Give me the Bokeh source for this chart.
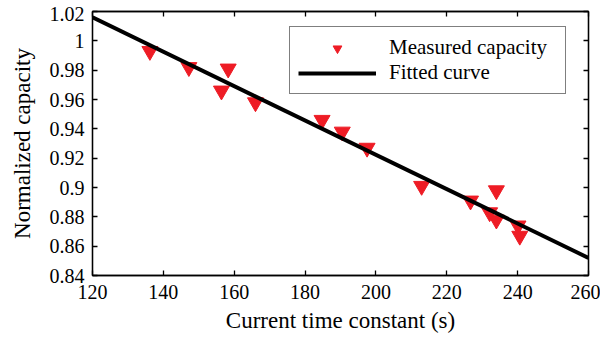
from bokeh.plotting import figure
from bokeh.models import (ColumnDataSource, FixedTicker, LinearAxis, Range1d,
                          CustomJSTickFormatter, Legend, LegendItem)
from bokeh.embed import file_html
from bokeh.resources import INLINE

# ---- data ----
time_constant = [136.2, 147.2, 156.4, 158.3, 166.0, 184.8, 190.5, 197.5,
                 212.9, 226.7, 232.1, 234.0, 234.0, 240.1, 240.6]
capacity = [0.993, 0.982, 0.966, 0.981, 0.958, 0.946, 0.938, 0.927,
            0.901, 0.891, 0.883, 0.878, 0.898, 0.874, 0.867]
fit_x = [120, 260]
fit_y = [1.016, 0.852]
x_ticks = [120, 140, 160, 180, 200, 220, 240, 260]
y_ticks = [0.84, 0.86, 0.88, 0.90, 0.92, 0.94, 0.96, 0.98, 1.00, 1.02]

FONT = "Liberation Serif"

p = figure(frame_width=496, frame_height=264, output_backend="svg",
           toolbar_location=None, x_range=Range1d(120, 260),
           y_range=Range1d(0.84, 1.02), min_border_right=12,
           x_axis_label="Current time constant (s)",
           y_axis_label="Normalized capacity")
p.margin = (6, 0, 0, 6)
p.background_fill_color = "white"
p.border_fill_color = "white"
p.outline_line_color = "black"
p.outline_line_width = 1.3
p.xgrid.visible = False
p.ygrid.visible = False

src = ColumnDataSource(dict(x=time_constant, y=capacity))
fit = ColumnDataSource(dict(x=fit_x, y=fit_y))
r_pts = p.scatter("x", "y", source=src, marker="inverted_triangle", size=16,
                  fill_color="#EE1C25", line_color="#EE1C25")
r_fit = p.line("x", "y", source=fit, line_color="black", line_width=4)

fmt = CustomJSTickFormatter(code="return tick.toFixed(2).replace(/0+$/,'').replace(/\\.$/,'');")

def style(ax, labels=True):
    ax.axis_line_color = "black"
    ax.axis_line_width = 1.3
    ax.major_tick_in = 5
    ax.major_tick_out = 0
    ax.minor_tick_line_color = None
    ax.major_tick_line_color = "black"
    ax.major_tick_line_width = 1.3
    if labels:
        ax.major_label_text_font = FONT
        ax.major_label_text_font_size = "20px"
        ax.major_label_text_color = "black"
        ax.axis_label_text_font = FONT
        ax.axis_label_text_font_size = "23px"
        ax.axis_label_text_font_style = "normal"
        ax.axis_label_text_color = "black"
    else:
        ax.major_label_text_font_size = "0px"

p.xaxis.ticker = FixedTicker(ticks=x_ticks)
p.yaxis.ticker = FixedTicker(ticks=y_ticks)
p.yaxis.formatter = fmt
style(p.xaxis[0])
style(p.yaxis[0])
p.xaxis.major_label_standoff = 9
p.yaxis.major_label_standoff = 8
p.xaxis.axis_label_standoff = 6
p.yaxis.axis_label_standoff = 12

top = LinearAxis(ticker=FixedTicker(ticks=x_ticks))
right = LinearAxis(ticker=FixedTicker(ticks=y_ticks))
style(top, labels=False)
style(right, labels=False)
p.add_layout(top, "above")
p.add_layout(right, "right")

legend = Legend(items=[LegendItem(label="Measured capacity", renderers=[r_pts]),
                       LegendItem(label="Fitted curve", renderers=[r_fit])],
                location=(197, 181))
legend.label_text_font = FONT
legend.label_text_font_size = "21px"
legend.label_text_color = "black"
legend.border_line_color = "black"
legend.border_line_width = 1.2
legend.background_fill_alpha = 1
legend.padding = 8
legend.spacing = 0
legend.margin = 0
legend.glyph_width = 78
legend.glyph_height = 22
legend.label_height = 22
legend.label_width = 168
legend.label_standoff = 13
p.add_layout(legend, "center")

open("out.html", "w").write(file_html(p, INLINE))
